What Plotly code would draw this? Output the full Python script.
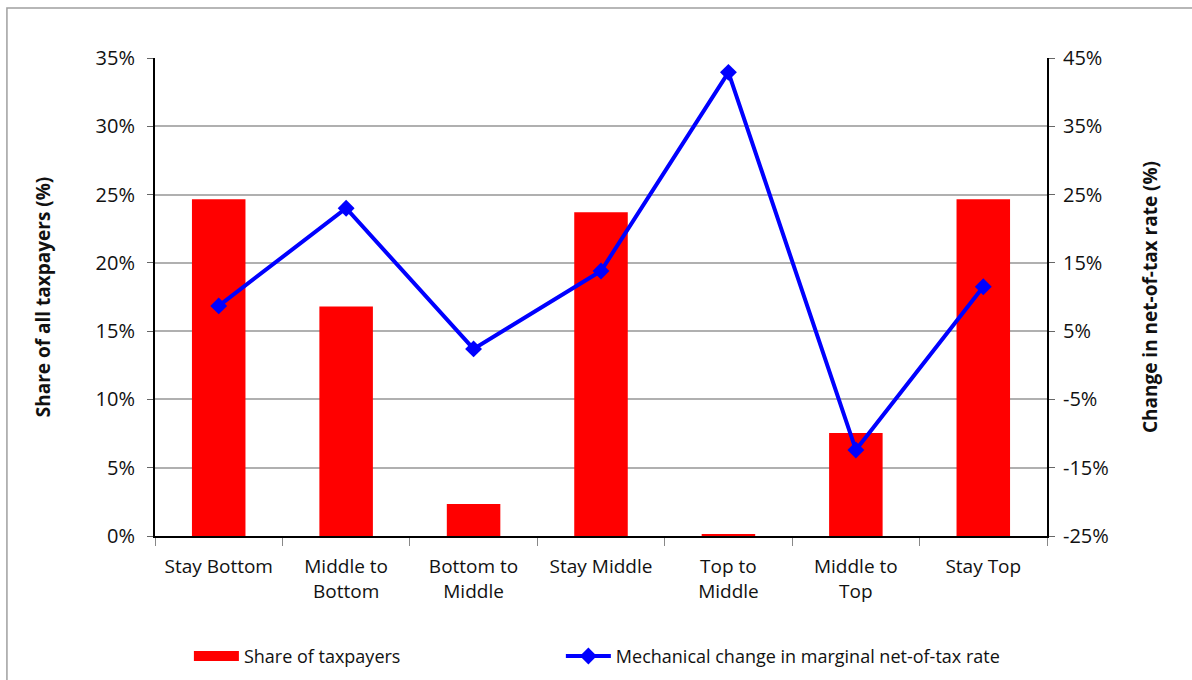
import plotly.graph_objects as go

categories = ["Stay Bottom", "Middle to<br>Bottom", "Bottom to<br>Middle", "Stay Middle",
              "Top to<br>Middle", "Middle to<br>Top", "Stay Top"]
share_of_taxpayers = [24.65, 16.8, 2.35, 23.7, 0.15, 7.55, 24.65]
net_of_tax_change = [8.7, 23.0, 2.4, 13.8, 42.9, -12.4, 11.5]

left_ticks = [0, 5, 10, 15, 20, 25, 30, 35]
right_ticks = [-25, -15, -5, 5, 15, 25, 35, 45]

FONT = "Open Sans"
RED = "#ff0000"
BLUE = "#0000ff"

fig = go.Figure()
fig.add_trace(go.Bar(
    x=categories, y=share_of_taxpayers, name="Share of taxpayers",
    marker=dict(color=RED, line=dict(width=0)), yaxis="y", showlegend=False,
))
# wide red swatch for the bar series' legend entry
fig.add_trace(go.Scatter(
    x=[None], y=[None], name="Share of taxpayers", mode="lines",
    line=dict(color=RED, width=13), yaxis="y", hoverinfo="skip", legend="legend",
))
fig.add_trace(go.Scatter(
    x=categories, y=net_of_tax_change, name="Mechanical change in marginal net-of-tax rate",
    mode="lines+markers", yaxis="y2", legend="legend2",
    line=dict(color=BLUE, width=4),
    marker=dict(symbol="diamond", size=13, color=BLUE),
))

legend_style = dict(orientation="h", xanchor="left", yanchor="top", yref="container",
                    y=0.062, font=dict(size=18), itemwidth=45, bgcolor="rgba(0,0,0,0)")

fig.update_layout(
    width=1192, height=680,
    margin=dict(l=155, r=145, t=58, b=144),
    paper_bgcolor="white", plot_bgcolor="white",
    font=dict(family=FONT, size=18, color="#111111"),
    bargap=0.58,
    showlegend=True,
    legend=dict(x=0.038, **legend_style),
    legend2=dict(x=0.455, **legend_style),
    xaxis=dict(
        showline=True, linecolor="black", linewidth=2, automargin=False,
        ticks="outside", tickson="boundaries", ticklen=8, tickcolor="#888",
        tickfont=dict(size=19), ticklabelstandoff=12, showgrid=False,
    ),
    yaxis=dict(
        range=[0, 35], tickvals=left_ticks, ticktext=[f"{v}%" for v in left_ticks],
        showline=True, linecolor="black", linewidth=2, automargin=False,
        ticks="outside", ticklen=6, tickcolor="#666",
        showgrid=True, gridcolor="#b0b0b0", gridwidth=1.5, zeroline=False,
        tickfont=dict(size=20), ticklabelstandoff=8,
        title=dict(text="<b>Share of all taxpayers (%)</b>", font=dict(size=19), standoff=40),
    ),
    yaxis2=dict(
        range=[-25, 45], tickvals=right_ticks, ticktext=[f"{v}%" for v in right_ticks],
        overlaying="y", side="right",
        showline=True, linecolor="black", linewidth=2, automargin=False,
        ticks="outside", ticklen=6, tickcolor="#666",
        showgrid=False, zeroline=False,
        tickfont=dict(size=20), ticklabelstandoff=4,
        title=dict(text="<b>Change in net-of-tax rate (%)</b>", font=dict(size=19), standoff=36),
    ),
    shapes=[dict(type="rect", xref="paper", yref="paper",
                 x0=-0.166, x1=1.3, y0=-0.5, y1=1.1046,
                 line=dict(color="#a0a0a0", width=1.5), layer="below")],
)

fig.write_html("out.html")
